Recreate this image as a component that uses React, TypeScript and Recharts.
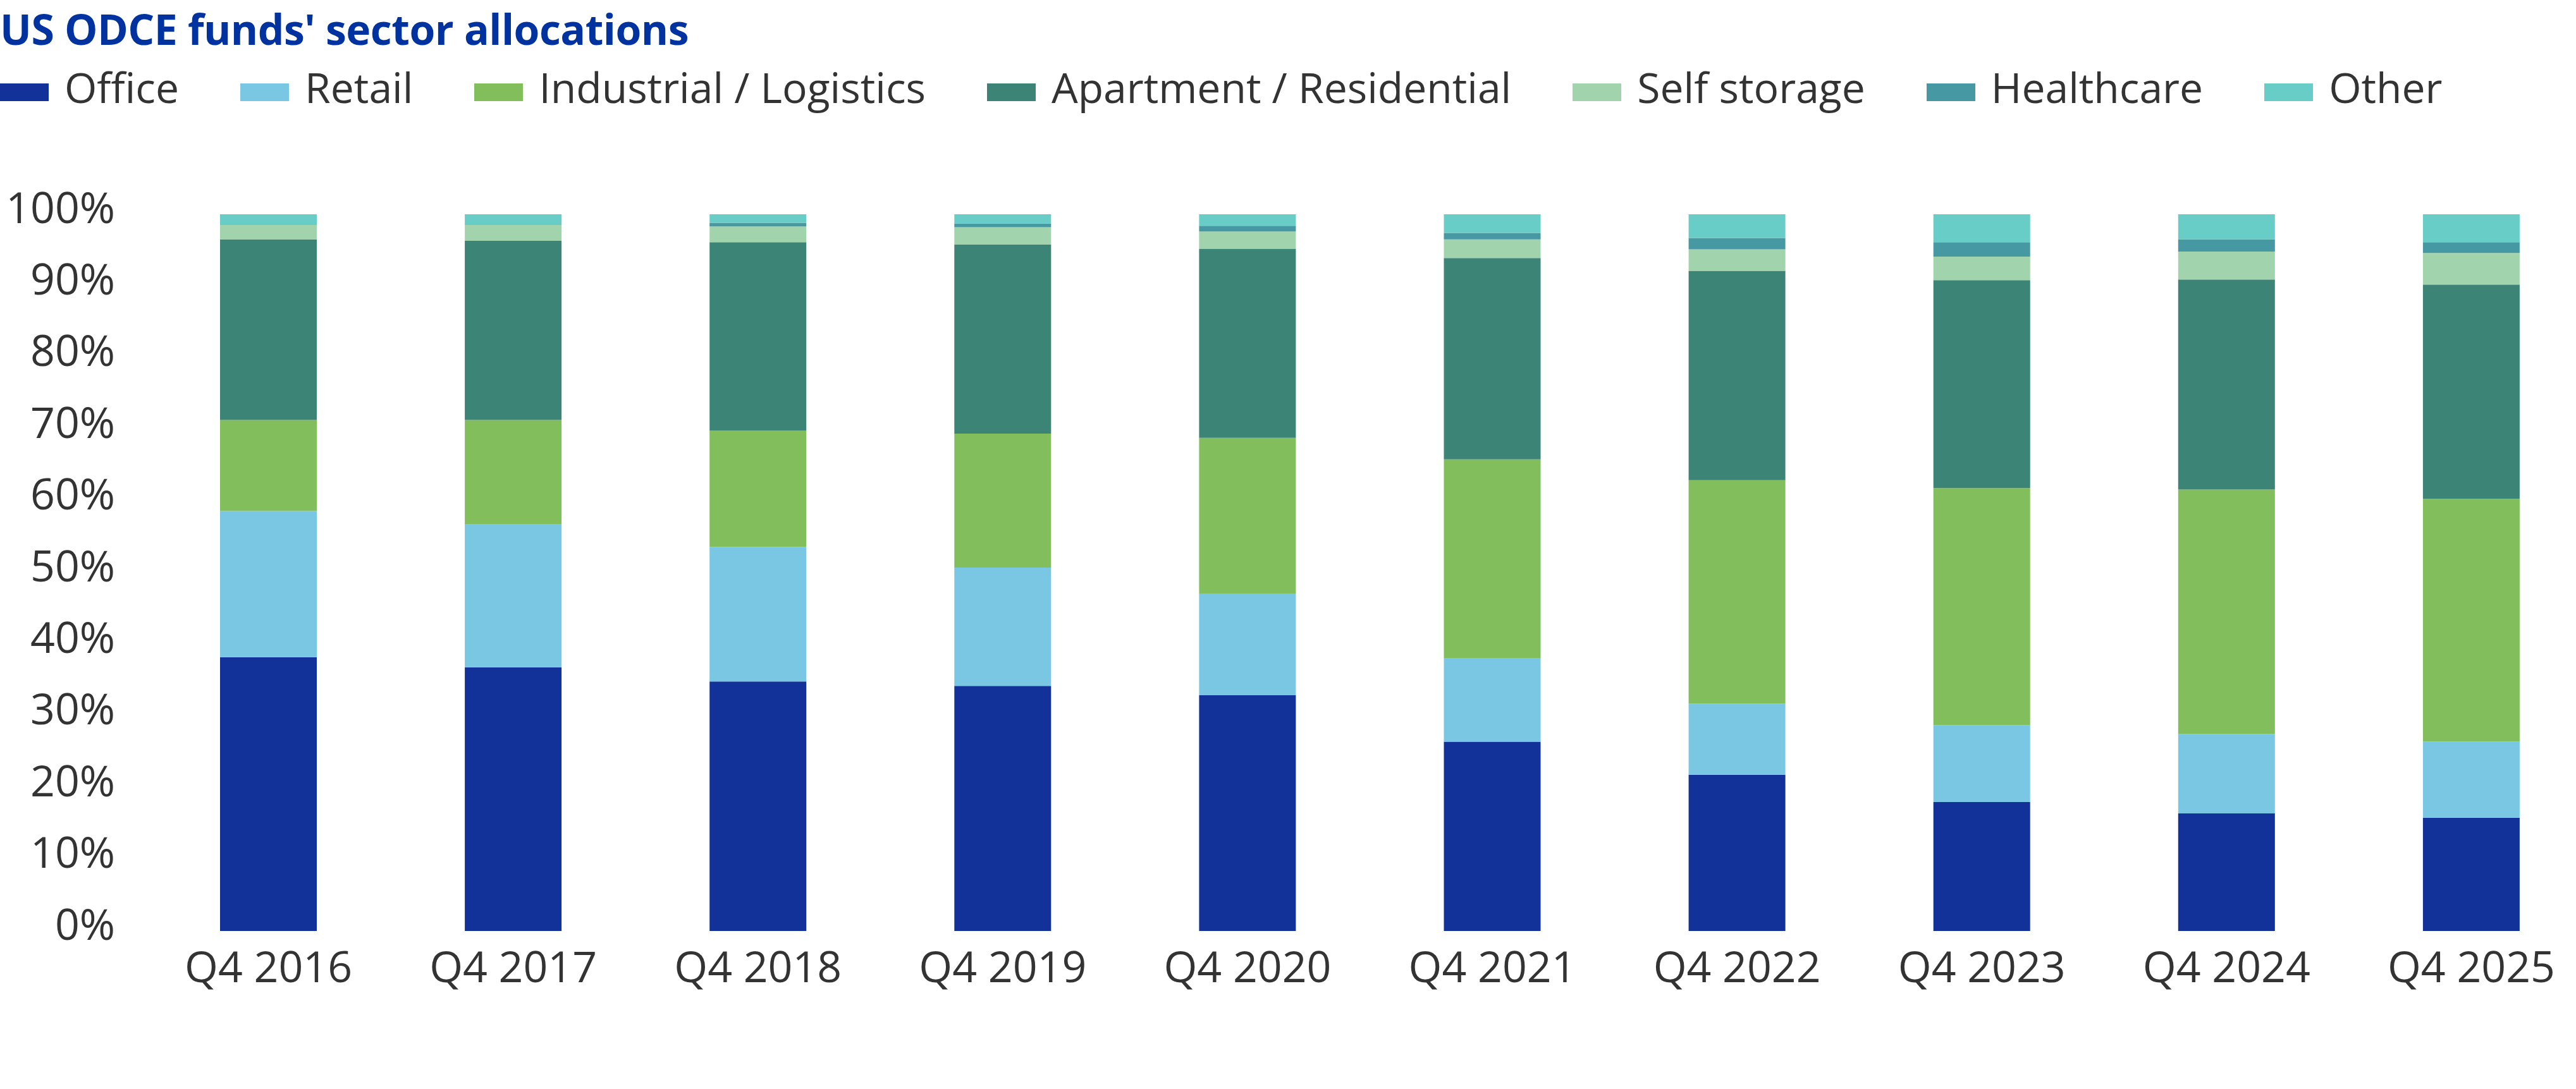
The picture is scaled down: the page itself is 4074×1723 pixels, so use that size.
import { BarChart, Bar, XAxis, YAxis } from 'recharts';

// Q4 snapshots, % of fund allocations
const quarters = ['Q4 2016', 'Q4 2017', 'Q4 2018', 'Q4 2019', 'Q4 2020', 'Q4 2021', 'Q4 2022', 'Q4 2023', 'Q4 2024', 'Q4 2025'];
const office = [38.2, 36.8, 34.8, 34.2, 32.9, 26.4, 21.8, 18.0, 16.4, 15.8];
const retail = [20.4, 20.0, 18.8, 16.5, 14.2, 11.7, 9.9, 10.7, 11.1, 10.6];
const industrial = [12.7, 14.5, 16.2, 18.7, 21.7, 27.7, 31.2, 33.1, 34.1, 33.9];
const apartment = [25.2, 25.0, 26.3, 26.4, 26.4, 28.1, 29.2, 29.0, 29.3, 29.9];
const selfStorage = [2.0, 2.2, 2.2, 2.4, 2.4, 2.6, 3.0, 3.3, 3.9, 4.4];
const healthcare = [0, 0, 0.5, 0.5, 0.8, 0.9, 1.6, 2.0, 1.7, 1.5];
const other = [1.5, 1.5, 1.2, 1.3, 1.6, 2.6, 3.3, 3.9, 3.5, 3.9];
const yTicks = [0, 10, 20, 30, 40, 50, 60, 70, 80, 90, 100];

const SERIES = [
  { key: 'office', name: 'Office', color: '#12329a', values: office },
  { key: 'retail', name: 'Retail', color: '#7ac7e3', values: retail },
  { key: 'industrial', name: 'Industrial / Logistics', color: '#82be5c', values: industrial },
  { key: 'apartment', name: 'Apartment / Residential', color: '#3c8475', values: apartment },
  { key: 'selfStorage', name: 'Self storage', color: '#a1d3ac', values: selfStorage },
  { key: 'healthcare', name: 'Healthcare', color: '#4699a2', values: healthcare },
  { key: 'other', name: 'Other', color: '#67cdc6', values: other },
];

const data = quarters.map((q, i) => {
  const row: Record<string, string | number> = { quarter: q };
  SERIES.forEach(s => { row[s.key] = s.values[i]; });
  return row;
});

const FONT = '"Open Sans", "Noto Sans", sans-serif';
const TEXT = '#333333';

const YTick = (props: any) => {
  const { x, y, payload } = props;
  return (
    <text x={x} y={y - 13} textAnchor="end" dominantBaseline="central" fontSize={68} fontFamily={FONT} fill={TEXT}>
      {payload.value}%
    </text>
  );
};

function SectorLegend() {
  return (
    <div style={{ position: 'absolute', top: 104, left: 0, display: 'flex', gap: 97, fontSize: 66, lineHeight: 1, color: TEXT }}>
      {SERIES.map(s => (
        <div key={s.key} style={{ display: 'flex', alignItems: 'flex-start', gap: 25 }}>
          <span style={{ width: 77, height: 28, marginTop: 28, background: s.color, flexShrink: 0 }} />
          {s.name}
        </div>
      ))}
    </div>
  );
}

export default function App() {
  return (
    <div style={{ position: 'relative', width: 4074, height: 1723, overflow: 'hidden', fontFamily: FONT, background: '#fff' }}>
      <style>{'body{margin:0}'}</style>
      <div style={{ position: 'absolute', top: 0, left: 0, fontSize: 66, lineHeight: 'normal', fontWeight: 700, color: '#0033a0', letterSpacing: -0.5, whiteSpace: 'nowrap' }}>
        US ODCE funds' sector allocations
      </div>
      <SectorLegend />
      <div style={{ position: 'absolute', top: 0, left: 0 }}>
        <BarChart width={4102} height={1723} data={data} margin={{ top: 339, right: 0, bottom: 150, left: 0 }}>
          <XAxis dataKey="quarter" height={100} axisLine={false} tickLine={false} tickSize={0} tickMargin={33}
            tick={{ fontSize: 68, fontFamily: FONT, fill: TEXT }} interval={0} />
          <YAxis type="number" domain={[0, 100]} ticks={yTicks} width={231} axisLine={false} tickLine={false}
            tickSize={0} tickMargin={49} tick={<YTick />} allowDataOverflow interval={0} />
          {SERIES.map(s => (
            <Bar key={s.key} dataKey={s.key} name={s.name} stackId="a" fill={s.color} barSize={153} isAnimationActive={false} />
          ))}
        </BarChart>
      </div>
    </div>
  );
}
